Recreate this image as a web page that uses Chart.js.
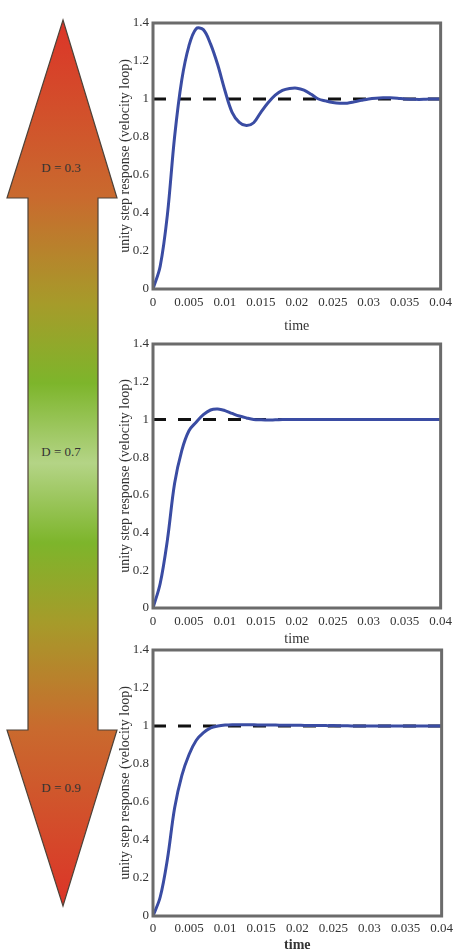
<!DOCTYPE html>
<html>
<head>
<meta charset="utf-8">
<script src="https://cdn.jsdelivr.net/npm/chart.js@4"></script>
<style>
  body { margin: 0; background: #fff; width: 458px; height: 950px; position: relative; overflow: hidden; }
  .arrow { position: absolute; left: 0; top: 0; }
  .box { position: absolute; left: 100px; width: 358px; }
</style>
</head>
<body>
<svg class="arrow" width="130" height="950">
  <defs>
    <linearGradient id="grad" x1="0" y1="20" x2="0" y2="906" gradientUnits="userSpaceOnUse">
      <stop offset="0" stop-color="#dc3428"/>
      <stop offset="0.2" stop-color="#c96a2e"/>
      <stop offset="0.32" stop-color="#a69b2a"/>
      <stop offset="0.41" stop-color="#7db52b"/>
      <stop offset="0.5" stop-color="#b4d486"/>
      <stop offset="0.59" stop-color="#7db52b"/>
      <stop offset="0.68" stop-color="#a69b2a"/>
      <stop offset="0.8" stop-color="#c96a2e"/>
      <stop offset="1" stop-color="#dc3428"/>
    </linearGradient>
  </defs>
  <polygon points="63,20 117,198 98,198 98,730 117,730 63,906 7,730 28,730 28,198 7,198"
           fill="url(#grad)" stroke="#4e4238" stroke-width="1.2"/>
  <g font-family="Liberation Serif, serif" font-size="13" fill="#333" text-anchor="middle">
    <text x="61" y="172">D = 0.3</text>
    <text x="61" y="456">D = 0.7</text>
    <text x="61" y="792">D = 0.9</text>
  </g>
</svg>

<div class="box" style="top:8px;height:327px"><canvas id="c1"></canvas></div>
<div class="box" style="top:332px;height:316px"><canvas id="c2"></canvas></div>
<div class="box" style="top:638px;height:316px"><canvas id="c3"></canvas></div>

<script>
// time axis (s)
const times = [0, 0.001, 0.002, 0.003, 0.004, 0.005, 0.006, 0.007, 0.008, 0.009,
  0.010, 0.011, 0.012, 0.013, 0.014, 0.015, 0.016, 0.017, 0.018, 0.019,
  0.020, 0.021, 0.022, 0.023, 0.024, 0.025, 0.026, 0.027, 0.028, 0.029,
  0.030, 0.031, 0.032, 0.033, 0.034, 0.035, 0.036, 0.037, 0.038, 0.039, 0.040];

// D = 0.3
const respD03 = [0, 0.12, 0.39, 0.80, 1.10, 1.28, 1.37, 1.365, 1.29, 1.18,
  1.045, 0.93, 0.877, 0.86, 0.875, 0.93, 0.98, 1.02, 1.045, 1.055,
  1.057, 1.047, 1.025, 1.0, 0.99, 0.982, 0.978, 0.978, 0.985, 0.993,
  1.0, 1.004, 1.006, 1.006, 1.004, 1.0, 0.999, 0.998, 0.999, 1.0, 1.0];

// D = 0.7
const respD07 = [0, 0.13, 0.36, 0.66, 0.835, 0.94, 0.985, 1.025, 1.05, 1.055,
  1.047, 1.032, 1.018, 1.008, 1.0, 0.998, 0.997, 0.998, 0.999, 1.0,
  1.0, 1.0, 1.0, 1.0, 1.0, 1.0, 1.0, 1.0, 1.0, 1.0,
  1.0, 1.0, 1.0, 1.0, 1.0, 1.0, 1.0, 1.0, 1.0, 1.0, 1.0];

// D = 0.9
const respD09 = [0, 0.10, 0.30, 0.57, 0.74, 0.85, 0.925, 0.965, 0.99, 1.0,
  1.005, 1.007, 1.007, 1.006, 1.006, 1.005, 1.005, 1.005, 1.004, 1.004,
  1.004, 1.003, 1.003, 1.003, 1.002, 1.002, 1.001, 1.001, 1.0, 1.0,
  1.0, 1.0, 1.0, 1.0, 1.0, 1.0, 1.0, 1.0, 1.0, 1.0, 1.0];

const refTimes = [0, 0.04];
const refLevel = [1, 1];

const xTicks = [0, 0.005, 0.01, 0.015, 0.02, 0.025, 0.03, 0.035, 0.04];
const yTicks = [0, 0.2, 0.4, 0.6, 0.8, 1, 1.2, 1.4];

const serif = 'Liberation Serif, Times New Roman, serif';

// grey frame round the plot area
const framePlugin = {
    id: 'frame',
    afterDatasetsDraw(chart) {
        const a = chart.chartArea;
        const ctx = chart.ctx;
        ctx.save();
        ctx.strokeStyle = '#6b6b6b';
        ctx.lineWidth = 3;
        ctx.strokeRect(a.left, a.top, a.right - a.left, a.bottom - a.top);
        ctx.restore();
    }
};

function makeChart(id, resp, opts) {
    const ctx = document.getElementById(id).getContext('2d');
    return new Chart(ctx, {
        type: 'line',
        data: {
            datasets: [{
                data: resp.map((v, i) => ({ x: times[i], y: v })),
                borderColor: '#3a4ca3',
                borderWidth: 3,
                pointRadius: 0,
                tension: 0.35,
                fill: false,
                order: 1
            }, {
                data: refTimes.map((t, i) => ({ x: t, y: refLevel[i] })),
                borderColor: '#111',
                borderWidth: 3,
                borderDash: [13, 12],
                pointRadius: 0,
                fill: false,
                order: 2
            }]
        },
        options: {
            responsive: true,
            maintainAspectRatio: false,
            animation: false,
            layout: { padding: { top: opts.padTop, right: 16, left: 17, bottom: 0 } },
            plugins: { legend: { display: false }, tooltip: { enabled: false } },
            scales: {
                x: {
                    type: 'linear',
                    min: 0, max: 0.04,
                    grid: { display: false, drawTicks: false },
                    border: { display: false },
                    afterBuildTicks: (s) => { s.ticks = xTicks.map(v => ({ value: v })); },
                    afterFit: (s) => { s.height = opts.xHeight; },
                    ticks: {
                        color: '#333',
                        font: { family: serif, size: 13 },
                        padding: opts.tickPad,
                        maxRotation: 0,
                        autoSkip: false,
                        callback: (v) => String(v)
                    },
                    title: {
                        display: true,
                        text: 'time',
                        color: '#333',
                        font: { family: serif, size: 14, weight: opts.boldTime ? 'bold' : 'normal' },
                        padding: { top: 0, bottom: 0 }
                    }
                },
                y: {
                    min: 0, max: 1.4,
                    grid: { display: false, drawTicks: false },
                    border: { display: false },
                    afterBuildTicks: (s) => { s.ticks = yTicks.map(v => ({ value: v })); },
                    afterFit: (s) => { s.width = 36; },
                    ticks: {
                        color: '#333',
                        font: { family: serif, size: 13 },
                        padding: 4,
                        callback: (v) => String(v)
                    },
                    title: {
                        display: true,
                        text: 'unity step response (velocity loop)',
                        color: '#333',
                        font: { family: serif, size: 14 },
                        padding: { top: 0, bottom: 0 }
                    }
                }
            }
        },
        plugins: [framePlugin]
    });
}

makeChart('c1', respD03, { padTop: 15, xHeight: 46, tickPad: 6, boldTime: false });
makeChart('c2', respD07, { padTop: 12, xHeight: 40, tickPad: 6, boldTime: false });
makeChart('c3', respD09, { padTop: 12, xHeight: 38, tickPad: 5, boldTime: true });
</script>
</body>
</html>
